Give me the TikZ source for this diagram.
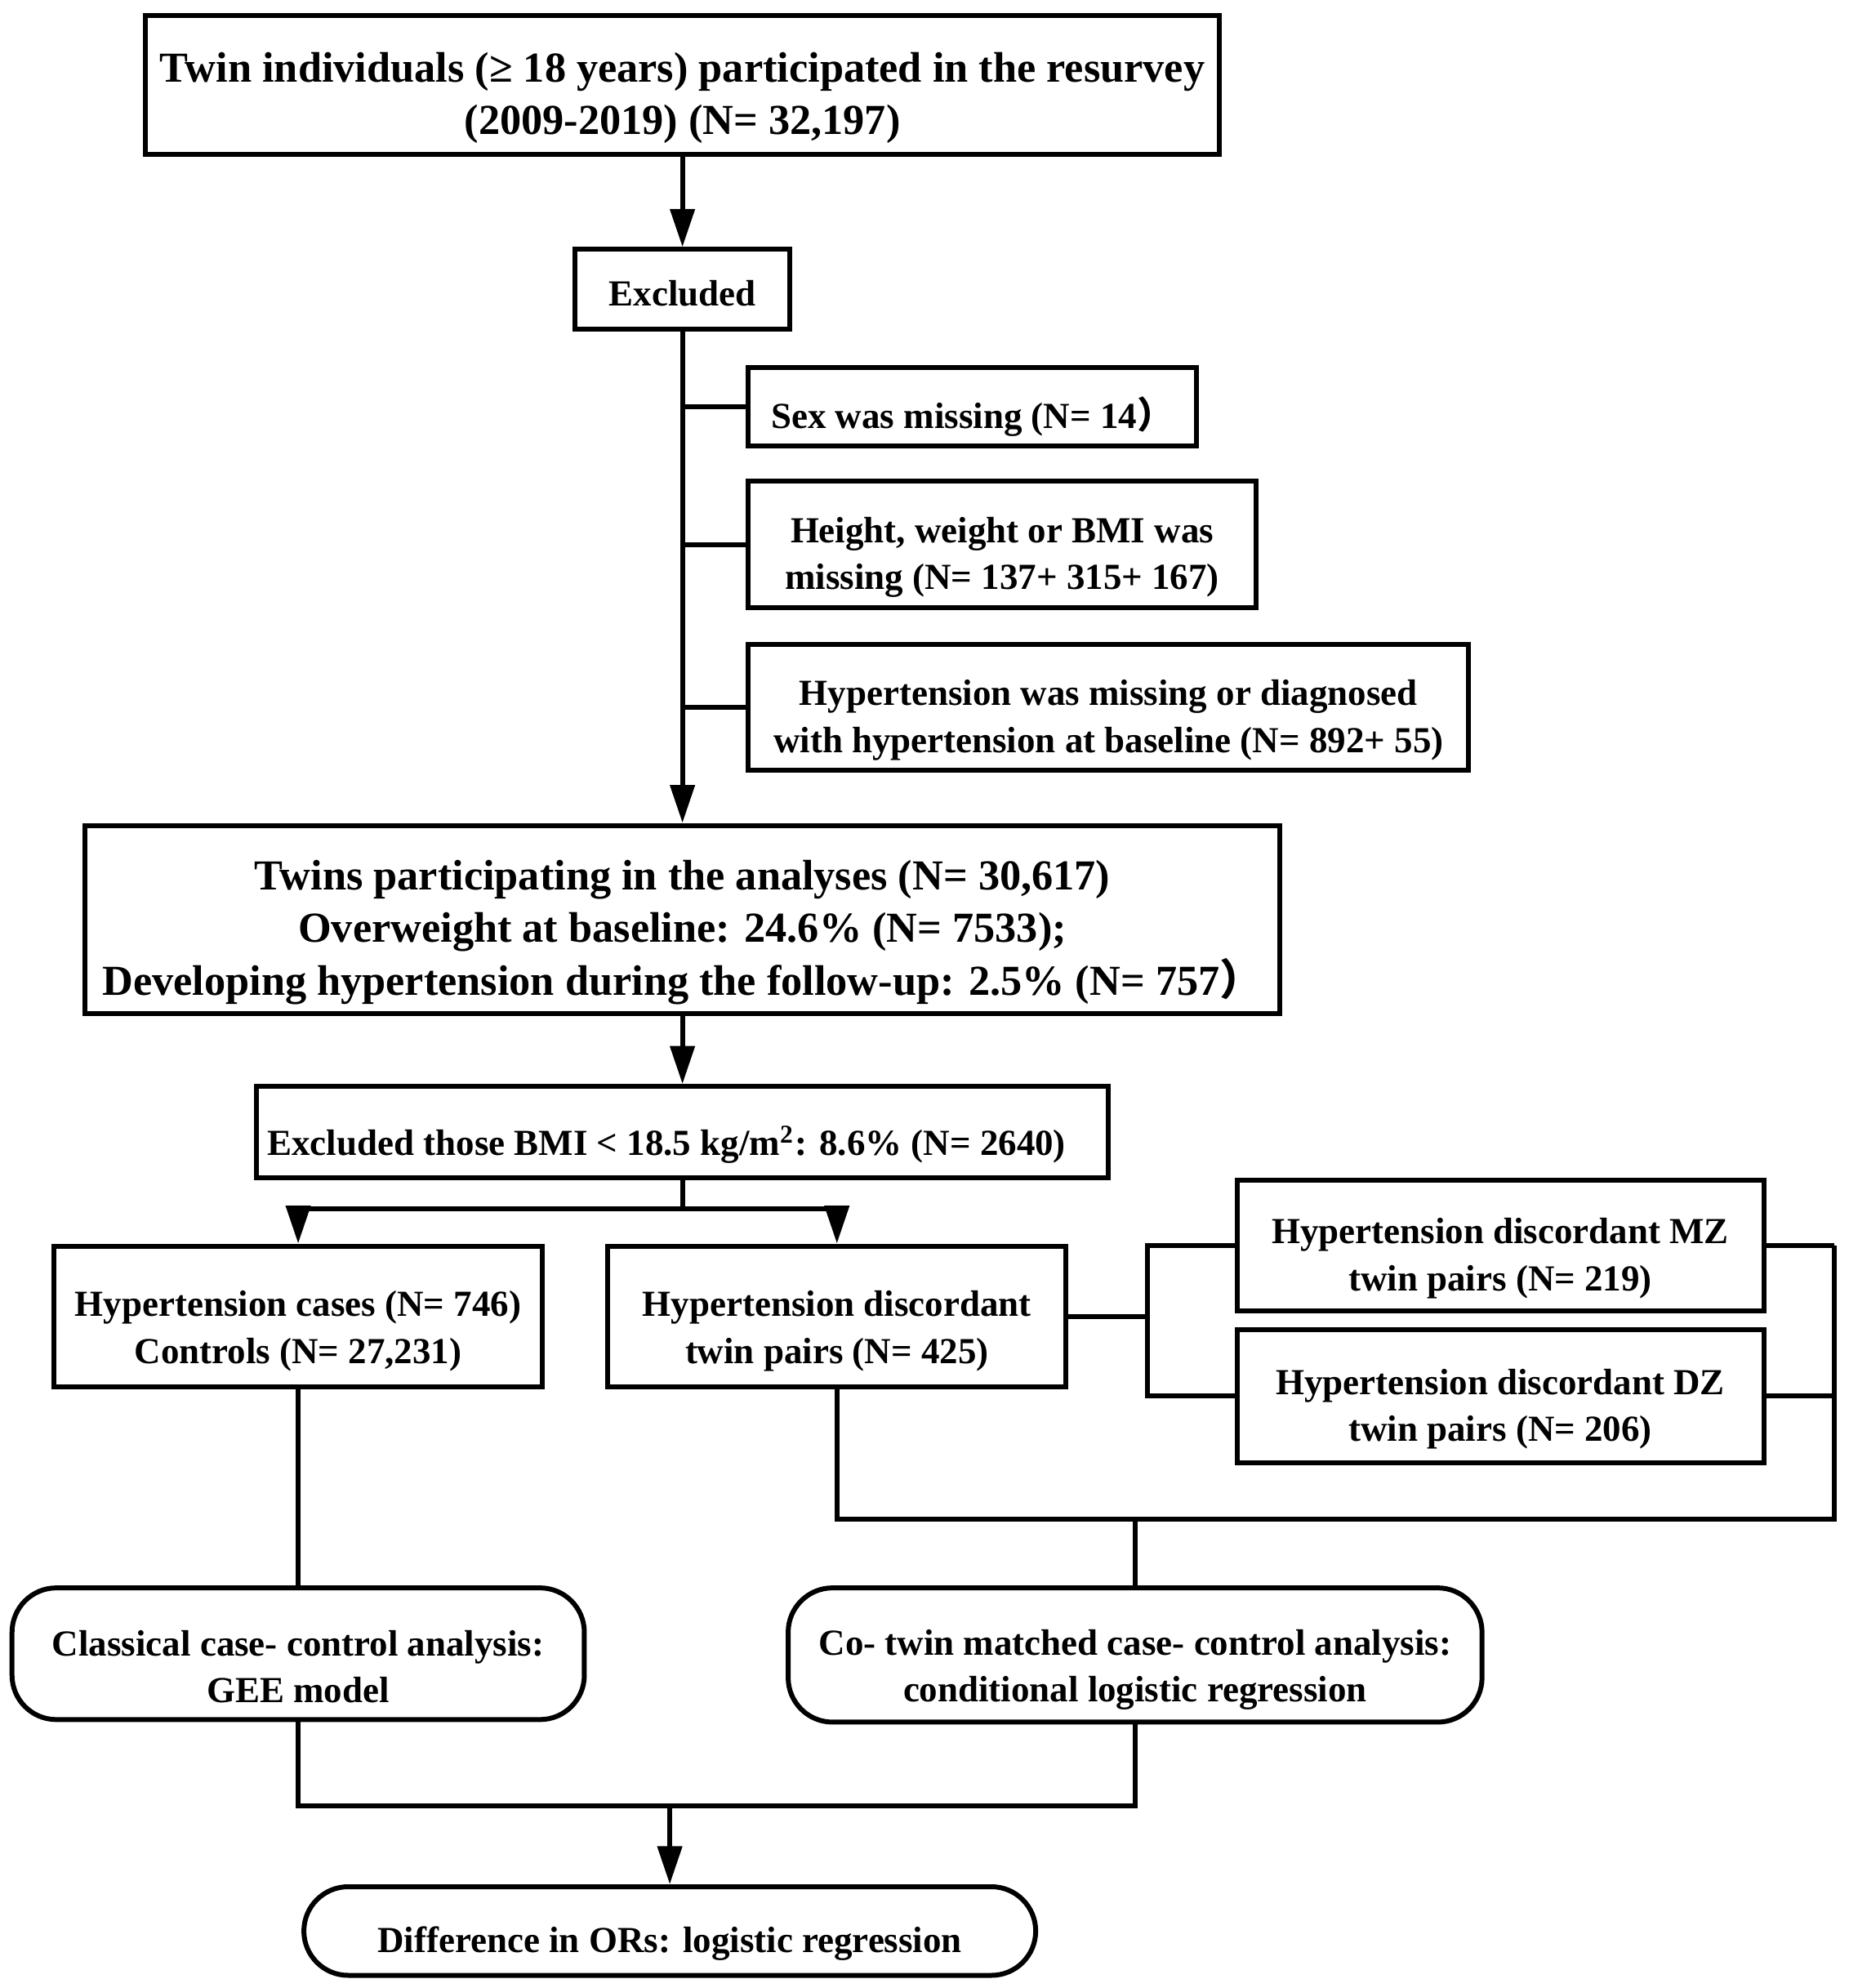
\documentclass[tikz,border=0pt]{standalone}
\usepackage{fontspec}
\setmainfont{Liberation Serif}
\newfontfamily\cjk{Noto Sans CJK SC}
\usepackage{tikz}
\usetikzlibrary{arrows.meta}
\newcommand{\lift}[1][1.4em]{\rule{0pt}{#1}}
\tikzset{
    box/.style={draw=black, line width=1.1pt, align=center, inner sep=2pt,
        font=\bfseries\fontsize{8.25}{10.5}\selectfont},
    bigbox/.style={box, font=\bfseries\fontsize{9.6}{11.8}\selectfont},
    rbox/.style={box, rounded corners=0.35cm},
    link/.style={draw=black, line width=1.1pt},
    arrowlink/.style={link, -{Triangle[length=0.30cm,width=0.19cm]}},
}
\begin{document}
\begin{tikzpicture}
	\useasboundingbox (0,0) rectangle (14.60,-15.70);
	\node[bigbox, minimum width=8.48cm, minimum height=1.10cm] (top) at (5.39,-0.67)
		{\lift[1.3em]Twin individuals (≥ 18 years) participated in the resurvey\\(2009-2019) (N= 32,197)};
	\node[box, minimum width=1.70cm, minimum height=0.63cm] (excl) at (5.39,-2.285) {\lift[0.9em]Excluded};
	\node[box, minimum width=3.54cm, minimum height=0.62cm] (sex) at (7.68,-3.21)
		{\lift Sex was missing (N= 14{\cjk ）}};
	\node[box, minimum width=4.01cm, minimum height=1.00cm] (hwb) at (7.915,-4.30)
		{\lift Height, weight or BMI was\\missing (N= 137+ 315+ 167)};
	\node[box, minimum width=5.69cm, minimum height=0.99cm] (hyp) at (8.755,-5.585)
		{\lift Hypertension was missing or diagnosed\\with hypertension at baseline (N= 892+ 55)};
	\node[bigbox, minimum width=9.44cm, minimum height=1.48cm] (twins) at (5.39,-7.26)
		{\lift[1.3em]Twins participating in the analyses (N= 30,617)\\Overweight at baseline: 24.6\% (N= 7533);\\Developing hypertension during the follow-up: 2.5\% (N= 757{\cjk ）}};
	\node[box, minimum width=6.73cm, minimum height=0.72cm] (bmi) at (5.39,-8.94)
		{\lift[1.5em]Excluded those BMI < 18.5 kg/m\textsuperscript{2}: 8.6\% (N= 2640)\hspace*{0.25cm}};
%
	\node[box, minimum width=3.86cm, minimum height=1.11cm] (cases) at (2.355,-10.395)
		{\lift[1.5em]Hypertension cases (N= 746)\\Controls (N= 27,231)};
	\node[box, minimum width=3.62cm, minimum height=1.11cm] (disc) at (6.61,-10.395)
		{\lift[1.5em]Hypertension discordant\\twin pairs (N= 425)};
	\node[box, minimum width=4.16cm, minimum height=1.03cm] (mz) at (11.85,-9.835)
		{\lift Hypertension discordant MZ\\twin pairs (N= 219)};
	\node[box, minimum width=4.16cm, minimum height=1.05cm] (dz) at (11.85,-11.025)
		{\lift Hypertension discordant DZ\\twin pairs (N= 206)};
	\node[rbox, minimum width=4.52cm, minimum height=1.04cm] (classic) at (2.355,-13.06)
		{\lift[1.4em]Classical case- control analysis:\\GEE model};
	\node[rbox, minimum width=5.48cm, minimum height=1.06cm] (cotwin) at (8.965,-13.07)
		{\lift[1.5em]Co- twin matched case- control analysis:\\conditional logistic regression};
	\node[rbox, minimum width=5.78cm, minimum height=0.70cm] (diff) at (5.29,-15.25)
		{\lift Difference in ORs: logistic regression};
%
	\draw[arrowlink] (top.south) -- (excl.north);
	\draw[arrowlink] (excl.south) -- (twins.north);
	\foreach \b in {sex,hwb,hyp}
		\draw[link] (excl.south |- \b.west) -- (\b.west);
	\draw[arrowlink] (twins.south) -- (bmi.north);
	\draw[link] (bmi.south) -- ++(0,-0.23) coordinate (split);
	\draw[arrowlink] (split) -| (cases.north);
	\draw[arrowlink] (split) -| (disc.north);
%
	\draw[link] (mz.west) -- ++(-0.69,0) coordinate (lbus) |- (dz.west);
	\draw[link] (disc.east) -- (disc.east -| lbus);
	\draw[link] (mz.east) -- ++(0.54,0) coordinate (rbus);
	\draw[link] (dz.east) -- (dz.east -| rbus);
	\draw[link] (disc.south) -- ++(0,-1.03) coordinate (bus) -- (bus -| rbus) -- (rbus);
	\draw[link] (cotwin.north) -- (cotwin.north |- bus);
%
	\draw[link] (cases.south) -- (classic.north);
	\path (classic.south) ++(0,-0.66) coordinate (jl);
	\draw[link] (classic.south) -- (jl) -| (cotwin.south);
	\draw[arrowlink] (diff.north |- jl) -- (diff.north);
\end{tikzpicture}
\end{document}
